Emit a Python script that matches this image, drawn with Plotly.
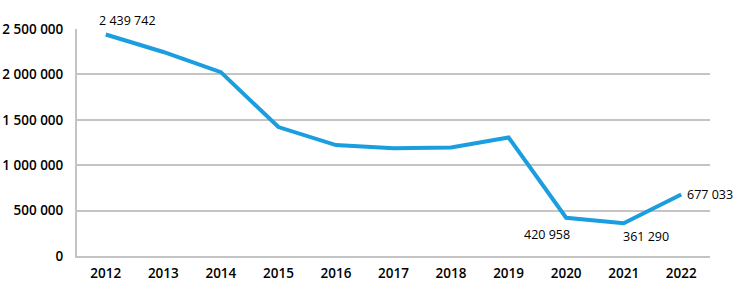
import plotly.graph_objects as go

years = ["2012", "2013", "2014", "2015", "2016", "2017", "2018", "2019", "2020", "2021", "2022"]
values = [2439742, 2247000, 2025000, 1420000, 1222000, 1186000, 1195000, 1305000, 420958, 361290, 677033]
y_tickvals = [0, 500000, 1000000, 1500000, 2000000, 2500000]
y_ticktext = ["0", "500 000", "1 000 000", "1 500 000", "2 000 000", "2 500 000"]

# labelled points: (index, text, xanchor, yanchor, xshift, yshift)
labels = [
    (0, "2 439 742", "left", "bottom", -9, 3),
    (8, "420 958", "right", "top", 6, -6),
    (9, "361 290", "left", "top", -3, -3),
    (10, "677 033", "left", "middle", 4, 0),
]

fig = go.Figure()
fig.add_trace(go.Scatter(
    x=years, y=values, mode="lines",
    line=dict(color="#1a9ee0", width=4),
    hoverinfo="skip",
))

annotations = []
for i, t, xa, ya, xs, ys in labels:
    annotations.append(dict(
        xref="x", yref="y", x=i, y=values[i], text=t, showarrow=False,
        xanchor=xa, yanchor=ya, xshift=xs, yshift=ys,
        font=dict(family="Open Sans", size=12.5, color="#000000", weight=500),
    ))

fig.update_layout(
    width=736, height=294,
    margin=dict(l=77, r=26, t=29, b=38),
    paper_bgcolor="white", plot_bgcolor="white",
    showlegend=False,
    annotations=annotations,
    font=dict(family="Open Sans", size=13, color="#000000"),
)
fig.update_xaxes(
    type="category", range=[-0.5, 10.5], automargin=False,
    showgrid=False, showline=True, linecolor="#c4c4c4", linewidth=2,
    ticks="", ticklabelstandoff=4, zeroline=False,
    tickfont=dict(family="Open Sans", size=13.5, color="#000000", weight=600),
)
fig.update_yaxes(
    range=[0, 2500000], tickvals=y_tickvals, ticktext=y_ticktext, automargin=False,
    showgrid=True, gridcolor="#c4c4c4", gridwidth=1.5,
    showline=True, linecolor="#c4c4c4", linewidth=2,
    zeroline=False, ticks="", ticklabelstandoff=9,
    tickfont=dict(family="Open Sans", size=13.5, color="#000000", weight=600),
)

fig.write_html("out.html")
